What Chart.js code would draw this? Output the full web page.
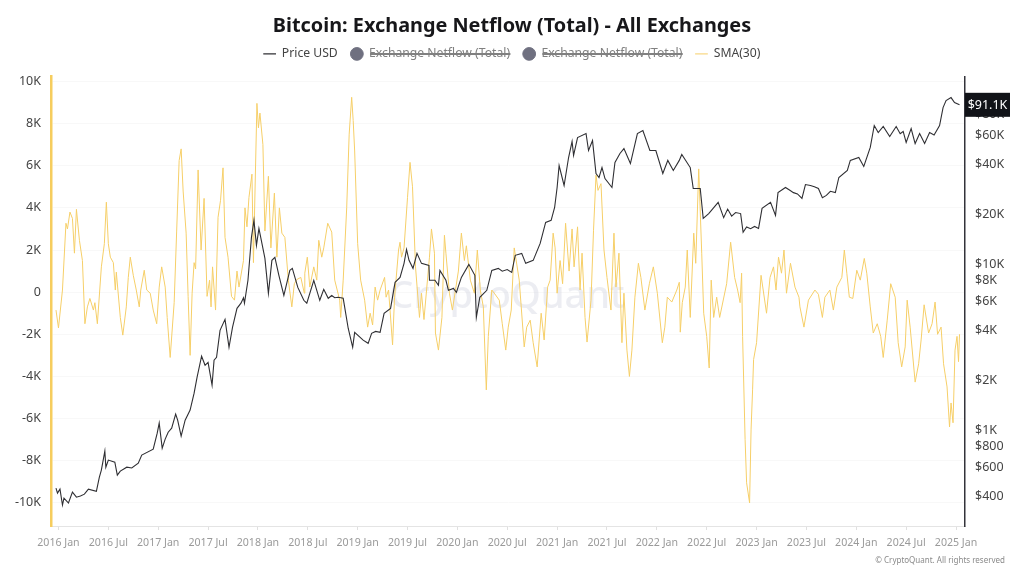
<!DOCTYPE html>
<html>
<head>
<meta charset="utf-8">
<title>Bitcoin: Exchange Netflow (Total) - All Exchanges</title>
<script src="https://cdn.jsdelivr.net/npm/chart.js@4/dist/chart.umd.js"></script>
<style>
  html, body { margin: 0; padding: 0; background: #fff; }
  #wrap { width: 1024px; height: 572px; position: relative; }
  canvas { display: block; }
</style>
</head>
<body>
<div id="wrap"><canvas id="chart" width="1024" height="572"></canvas></div>
<script>
const xTickYears = [2016, 2016.5, 2017, 2017.5, 2018, 2018.5, 2019, 2019.5, 2020, 2020.5, 2021, 2021.5, 2022, 2022.5, 2023, 2023.5, 2024, 2024.5, 2025];
const xTickLabels = ["2016 Jan", "2016 Jul", "2017 Jan", "2017 Jul", "2018 Jan", "2018 Jul", "2019 Jan", "2019 Jul", "2020 Jan", "2020 Jul", "2021 Jan", "2021 Jul", "2022 Jan", "2022 Jul", "2023 Jan", "2023 Jul", "2024 Jan", "2024 Jul", "2025 Jan"];
const netflowTicks = [-10, -8, -6, -4, -2, 0, 2, 4, 6, 8, 10];
const priceTicks = [400, 600, 800, 1000, 2000, 4000, 6000, 8000, 10000, 20000, 40000, 60000, 80000];
const lastPrice = 91100;

// price, usd
const priceYears = [2015.975, 2015.99, 2016.015, 2016.04, 2016.055, 2016.10, 2016.14, 2016.18, 2016.22, 2016.26, 2016.30, 2016.38, 2016.41, 2016.43, 2016.465, 2016.475, 2016.50, 2016.565, 2016.59, 2016.62, 2016.685, 2016.735, 2016.80, 2016.835, 2016.95, 2016.99, 2017.01, 2017.04, 2017.07, 2017.10, 2017.135, 2017.175, 2017.195, 2017.23, 2017.27, 2017.32, 2017.36, 2017.39, 2017.435, 2017.47, 2017.50, 2017.54, 2017.56, 2017.585, 2017.62, 2017.67, 2017.71, 2017.745, 2017.79, 2017.83, 2017.855, 2017.865, 2017.90, 2017.935, 2017.96, 2017.985, 2018.01, 2018.07, 2018.105, 2018.14, 2018.17, 2018.21, 2018.26, 2018.32, 2018.345, 2018.40, 2018.46, 2018.49, 2018.56, 2018.62, 2018.66, 2018.705, 2018.74, 2018.77, 2018.805, 2018.855, 2018.905, 2018.95, 2018.97, 2019.055, 2019.105, 2019.14, 2019.18, 2019.225, 2019.265, 2019.33, 2019.375, 2019.425, 2019.465, 2019.49, 2019.515, 2019.555, 2019.595, 2019.64, 2019.715, 2019.72, 2019.775, 2019.81, 2019.825, 2019.885, 2019.91, 2019.96, 2019.99, 2020.04, 2020.115, 2020.175, 2020.19, 2020.225, 2020.295, 2020.345, 2020.41, 2020.45, 2020.50, 2020.545, 2020.58, 2020.645, 2020.685, 2020.76, 2020.83, 2020.885, 2020.94, 2020.975, 2021.00, 2021.02, 2021.07, 2021.115, 2021.15, 2021.165, 2021.205, 2021.29, 2021.315, 2021.355, 2021.39, 2021.42, 2021.45, 2021.48, 2021.55, 2021.58, 2021.63, 2021.67, 2021.735, 2021.805, 2021.86, 2021.93, 2021.99, 2022.06, 2022.11, 2022.165, 2022.225, 2022.25, 2022.335, 2022.365, 2022.435, 2022.465, 2022.52, 2022.615, 2022.67, 2022.71, 2022.75, 2022.79, 2022.84, 2022.865, 2022.90, 2022.94, 2022.98, 2023.02, 2023.055, 2023.14, 2023.19, 2023.215, 2023.29, 2023.33, 2023.37, 2023.41, 2023.455, 2023.49, 2023.54, 2023.58, 2023.62, 2023.66, 2023.70, 2023.74, 2023.79, 2023.825, 2023.91, 2023.94, 2024.025, 2024.075, 2024.14, 2024.18, 2024.22, 2024.27, 2024.335, 2024.40, 2024.44, 2024.47, 2024.50, 2024.55, 2024.59, 2024.635, 2024.685, 2024.735, 2024.78, 2024.835, 2024.87, 2024.90, 2024.95, 2024.985, 2025.035];
const priceValues = [451, 421, 445, 357, 393, 367, 427, 398, 405, 415, 445, 432, 526, 579, 753, 603, 665, 646, 540, 571, 603, 596, 638, 713, 774, 966, 1110, 785, 889, 979, 1035, 1257, 1156, 927, 1156, 1329, 1681, 2095, 2802, 2472, 2576, 1877, 2650, 2761, 4010, 4670, 3170, 4180, 5440, 5840, 6300, 5840, 8020, 14530, 18400, 13000, 16450, 10870, 6700, 10570, 11020, 8590, 6510, 9200, 9460, 7270, 6080, 5840, 8020, 6080, 7080, 6250, 6500, 6300, 6340, 6250, 4130, 3170, 3900, 3500, 3350, 3850, 3950, 3900, 5080, 5440, 7800, 8350, 10140, 12300, 10570, 9460, 11640, 10140, 9860, 8020, 8020, 7480, 9200, 8020, 6980, 7170, 6790, 8350, 10000, 8590, 4800, 6340, 6980, 9200, 9460, 9100, 9300, 8950, 11330, 11640, 10140, 10570, 13370, 17870, 18400, 21990, 29000, 39300, 29800, 43900, 54800, 45200, 57900, 61200, 48400, 55500, 35200, 33300, 38200, 32800, 29000, 41000, 46400, 49700, 40400, 61200, 63800, 48400, 48400, 35200, 42200, 36700, 42200, 45800, 38200, 28600, 28600, 18900, 20200, 23600, 19100, 21500, 19500, 20500, 20200, 15600, 16800, 16400, 16900, 16450, 21700, 23600, 19700, 27000, 29000, 28000, 27000, 26500, 24900, 30200, 29800, 29300, 28600, 25200, 26000, 27500, 27000, 33300, 36700, 42200, 43900, 38800, 50500, 68400, 62100, 67500, 58700, 67500, 61000, 63000, 54100, 65600, 53300, 61200, 53300, 62100, 60000, 68400, 87700, 96600, 100700, 94000, 91100];

// SMA(30) of the netflow, in thousands
const netflowYears = [2015.975, 2016.00, 2016.04, 2016.075, 2016.09, 2016.115, 2016.14, 2016.16, 2016.18, 2016.21, 2016.24, 2016.265, 2016.29, 2016.315, 2016.35, 2016.365, 2016.39, 2016.43, 2016.46, 2016.48, 2016.50, 2016.52, 2016.55, 2016.57, 2016.58, 2016.62, 2016.645, 2016.68, 2016.70, 2016.72, 2016.75, 2016.78, 2016.81, 2016.825, 2016.86, 2016.885, 2016.92, 2016.95, 2016.985, 2017.01, 2017.035, 2017.07, 2017.09, 2017.12, 2017.16, 2017.185, 2017.21, 2017.23, 2017.25, 2017.28, 2017.30, 2017.32, 2017.34, 2017.36, 2017.375, 2017.40, 2017.43, 2017.46, 2017.49, 2017.515, 2017.53, 2017.545, 2017.575, 2017.60, 2017.625, 2017.65, 2017.67, 2017.70, 2017.735, 2017.765, 2017.79, 2017.81, 2017.855, 2017.87, 2017.89, 2017.91, 2017.94, 2017.955, 2017.99, 2018.005, 2018.02, 2018.05, 2018.07, 2018.105, 2018.13, 2018.165, 2018.19, 2018.215, 2018.24, 2018.27, 2018.305, 2018.34, 2018.365, 2018.39, 2018.43, 2018.465, 2018.47, 2018.495, 2018.52, 2018.56, 2018.59, 2018.61, 2018.64, 2018.66, 2018.70, 2018.74, 2018.77, 2018.82, 2018.83, 2018.855, 2018.89, 2018.915, 2018.94, 2018.955, 2018.97, 2019.00, 2019.03, 2019.07, 2019.10, 2019.125, 2019.15, 2019.175, 2019.20, 2019.225, 2019.27, 2019.285, 2019.31, 2019.35, 2019.37, 2019.41, 2019.425, 2019.44, 2019.465, 2019.50, 2019.525, 2019.55, 2019.58, 2019.62, 2019.64, 2019.665, 2019.72, 2019.74, 2019.77, 2019.78, 2019.81, 2019.845, 2019.87, 2019.885, 2019.92, 2019.95, 2020.01, 2020.04, 2020.07, 2020.09, 2020.13, 2020.17, 2020.20, 2020.23, 2020.26, 2020.29, 2020.31, 2020.345, 2020.37, 2020.42, 2020.45, 2020.485, 2020.51, 2020.54, 2020.57, 2020.62, 2020.67, 2020.695, 2020.73, 2020.76, 2020.80, 2020.84, 2020.87, 2020.905, 2020.93, 2020.96, 2020.98, 2021.00, 2021.03, 2021.055, 2021.085, 2021.12, 2021.15, 2021.17, 2021.205, 2021.23, 2021.25, 2021.28, 2021.30, 2021.34, 2021.365, 2021.39, 2021.41, 2021.44, 2021.47, 2021.50, 2021.54, 2021.57, 2021.59, 2021.62, 2021.65, 2021.67, 2021.70, 2021.725, 2021.75, 2021.78, 2021.815, 2021.84, 2021.88, 2021.925, 2021.965, 2022.005, 2022.055, 2022.08, 2022.105, 2022.15, 2022.20, 2022.225, 2022.235, 2022.255, 2022.285, 2022.305, 2022.335, 2022.37, 2022.39, 2022.42, 2022.45, 2022.47, 2022.50, 2022.525, 2022.545, 2022.57, 2022.60, 2022.63, 2022.70, 2022.74, 2022.78, 2022.81, 2022.835, 2022.85, 2022.86, 2022.885, 2022.90, 2022.93, 2022.945, 2022.96, 2022.97, 2023.00, 2023.045, 2023.10, 2023.135, 2023.17, 2023.195, 2023.22, 2023.25, 2023.275, 2023.30, 2023.34, 2023.385, 2023.425, 2023.435, 2023.475, 2023.52, 2023.585, 2023.62, 2023.66, 2023.685, 2023.735, 2023.77, 2023.805, 2023.855, 2023.88, 2023.905, 2023.93, 2023.965, 2024.005, 2024.04, 2024.08, 2024.105, 2024.14, 2024.17, 2024.21, 2024.245, 2024.27, 2024.31, 2024.345, 2024.39, 2024.42, 2024.455, 2024.49, 2024.51, 2024.54, 2024.59, 2024.625, 2024.65, 2024.68, 2024.725, 2024.76, 2024.79, 2024.815, 2024.85, 2024.875, 2024.91, 2024.935, 2024.95, 2024.97, 2024.99, 2025.01, 2025.025, 2025.035];
const netflowValues = [-0.85, -1.7, 0.1, 3.27, 3.0, 3.8, 3.5, 1.85, 3.93, 2.46, 1.5, -1.5, -0.7, -0.3, -0.85, -0.5, -1.5, 1.2, 2.3, 4.27, 2.3, 1.66, 1.4, 0.1, 0.95, -1.2, -2.04, -0.7, 0.7, 1.66, 0.8, 0.1, -0.7, 0.1, 1.04, 0.1, -0.05, -0.85, -1.5, 0.24, 1.2, 0.24, -1.2, -3.1, -0.5, 2.9, 6.25, 6.8, 4.8, 2.8, -0.2, -3, -0.05, 1.4, 1.1, 5.8, 2, 4.45, -0.2, 0.57, -0.7, 1.2, -0.85, 3.55, 4.36, 5.9, 2.6, 1.66, -0.2, -0.38, 1, 0.24, 1.5, 4, 3.1, 4.5, 5.6, 1.4, 8.96, 7.8, 8.5, 7, 2.9, 5.5, 2.1, 4.7, 1.66, 4, 2.8, 2.6, 0.57, -0.7, 0.4, 0.6, 0.7, -0.05, 0.9, 1.66, 0.24, 1.2, 0.57, 2.46, 1.66, 2.1, 3.27, 2.85, 0.57, -0.38, -1.2, 0.57, 4, 7.5, 9.25, 8.15, 6.7, 2.3, 0.57, -0.38, -1.66, -1, -1.56, 0.24, -0.38, 0.1, 0.7, -0.24, 0.1, -2.5, -0.24, 2, 2.37, 1.66, 2.1, 4.5, 6.16, 5, 1.2, -1.2, -0.05, -1.3, 1.66, 3, 1.85, -1.94, -2.75, -1.2, 2.7, 1.85, -0.05, -0.85, 1, 2.8, 1.5, 2.2, 0.57, -0.05, 2, 0.1, -0.7, -4.64, -2.1, 0.1, -0.05, -0.38, -1.5, -2.75, -1.66, -0.85, 2.1, 0.57, -2.6, -1.66, -1.33, -2.4, -3.55, -1, -2.27, 0.24, 0.57, 2.8, 2.1, -0.05, 1.5, 0.4, 3.27, 1, 3, 1.2, 3.1, 0.1, 1.85, -1.2, -2.37, -0.38, 2.94, 5.55, 4.83, 5.15, 2, 0.7, -0.85, 2.8, 0.24, 1.85, -2.4, -0.05, -2.75, -4, -2.75, -0.24, 1.37, 0.7, -0.85, 0.4, 1.2, -0.05, -2.4, -1.66, -0.24, -0.47, 0.1, 0.47, -1.9, -0.5, 0.24, 2, -1.2, 2.8, 1.37, 5.85, 1.85, -1, -2.1, -3.6, 0.57, -1.2, -0.24, -1.2, 0.4, 2.37, 0.7, 0.1, -0.5, 0.9, -2.1, -7, -9.05, -10, -6.5, -4.64, -3.2, -2.4, 0.8, -1, 0.7, 1.2, 0.1, 1.66, 0.9, 2, -0.05, 1.37, 0.24, -0.24, -0.7, -1.66, -0.38, 0.1, -0.1, -1.2, -0.24, 0.1, -0.85, 0.24, 0.7, 2, 0.9, -0.24, -0.3, 1.04, 0.57, 1.6, 0.9, -0.7, -1.94, -1.5, -2.1, -3.1, -1.33, 0.4, -0.24, -2.4, -3.55, -2.6, -0.38, -1.66, -4.27, -3.4, -2.27, -0.6, -1.94, -1.5, -0.47, -2, -1.66, -3.4, -4.5, -6.4, -5.26, -6.2, -2.75, -2.1, -3.3, -2];

const FONT = "'Noto Sans', sans-serif";

function pairs(xs, ys) {
    return xs.map((x, i) => ({ x: x, y: ys[i] }));
}

function priceLabel(v) {
    return v >= 1000 ? "$" + (v / 1000) + "K" : "$" + v;
}

// badge for the last price and the watermark / copyright texts
const extras = {
    id: "extras",
    beforeDatasetsDraw(chart) {
        const ctx = chart.ctx;
        const area = chart.chartArea;
        ctx.save();
        ctx.font = "500 38px " + FONT;
        ctx.fillStyle = "rgba(205,208,222,0.38)";
        ctx.textAlign = "center";
        ctx.textBaseline = "middle";
        ctx.fillText("CryptoQuant", (area.left + area.right) / 2 - 1, 297);
        ctx.restore();
    },
    afterDraw(chart) {
        const ctx = chart.ctx;
        const yPrice = chart.scales.yPrice;
        const py = yPrice.getPixelForValue(lastPrice);
        ctx.save();
        ctx.fillStyle = "#111318";
        ctx.fillRect(965, py - 12, 45, 24);
        ctx.fillStyle = "#fff";
        ctx.font = "12.5px " + FONT;
        ctx.textAlign = "center";
        ctx.textBaseline = "middle";
        ctx.fillText("$91.1K", 987.5, py + 0.5);
        ctx.fillStyle = "#8a8a8a";
        ctx.font = "8px " + FONT;
        ctx.textAlign = "right";
        ctx.fillText("© CryptoQuant. All rights reserved", 1005, 561);
        ctx.restore();
    }
};

const chart = new Chart(document.getElementById("chart"), {
    type: "line",
    data: {
        datasets: [
            {
                label: "Price USD",
                data: pairs(priceYears, priceValues),
                yAxisID: "yPrice",
                borderColor: "#2f2f33",
                backgroundColor: "#2f2f33",
                borderWidth: 1.1,
                pointRadius: 0,
                pointStyle: "line",
                order: 0
            },
            {
                label: "Exchange Netflow (Total)",
                data: [],
                hidden: true,
                yAxisID: "yNetflow",
                borderColor: "#6f7080",
                backgroundColor: "#6f7080",
                pointStyle: "circle",
                order: 1
            },
            {
                label: "Exchange Netflow (Total)",
                data: [],
                hidden: true,
                yAxisID: "yNetflow",
                borderColor: "#6f7080",
                backgroundColor: "#6f7080",
                pointStyle: "circle",
                order: 2
            },
            {
                label: "SMA(30)",
                data: pairs(netflowYears, netflowValues),
                yAxisID: "yNetflow",
                borderColor: "#f6cf68",
                backgroundColor: "#f6cf68",
                borderWidth: 1,
                pointRadius: 0,
                pointStyle: "line",
                order: 3
            }
        ]
    },
    options: {
        responsive: false,
        animation: false,
        devicePixelRatio: 1,
        layout: { padding: { top: 0, bottom: 0, left: 0, right: 0 } },
        plugins: {
            title: {
                display: true,
                text: "Bitcoin: Exchange Netflow (Total) - All Exchanges",
                color: "#17171a",
                font: { family: FONT, size: 19.85, weight: "bold" },
                padding: { top: 14, bottom: -3 }
            },
            // empty box under the legend, only there to push the plot down
            subtitle: {
                display: true,
                text: "",
                weight: 500,
                font: { size: 5.5 },
                padding: 0
            },
            legend: {
                display: true,
                position: "top",
                labels: {
                    usePointStyle: true,
                    boxHeight: 9,
                    padding: 13,
                    color: "#444",
                    font: { family: FONT, size: 12.2 },
                    generateLabels(c) {
                        const items = Chart.defaults.plugins.legend.labels.generateLabels(c);
                        items.forEach(it => {
                            it.fontColor = it.hidden ? "#808080" : "#444";
                        });
                        return items;
                    }
                }
            },
            tooltip: { enabled: false }
        },
        scales: {
            x: {
                type: "linear",
                min: 2015.925,
                max: 2025.09,
                afterBuildTicks(scale) {
                    scale.ticks = xTickYears.map(v => ({ value: v }));
                },
                afterFit(scale) {
                    scale.height = 46;
                },
                border: { color: "#e4e4e4", width: 1 },
                grid: { drawOnChartArea: false, tickLength: 4, tickColor: "#e0e0e0" },
                ticks: {
                    autoSkip: false,
                    maxRotation: 0,
                    color: "#9a9a9a",
                    padding: 7,
                    font: { family: FONT, size: 10.6 },
                    callback: (v, i) => xTickLabels[i]
                }
            },
            yNetflow: {
                type: "linear",
                position: "left",
                min: -11.1,
                max: 10.23,
                afterBuildTicks(scale) {
                    scale.ticks = netflowTicks.map(v => ({ value: v }));
                },
                afterFit(scale) {
                    scale.width = 51;
                },
                border: { color: "#f6cd5e", width: 2.5 },
                grid: { color: "#f8f8f8", drawTicks: false },
                ticks: {
                    color: "#444",
                    padding: 10,
                    font: { family: FONT, size: 12.5 },
                    callback: v => (v === 0 ? "0" : v + "K")
                }
            },
            yPrice: {
                type: "logarithmic",
                position: "right",
                min: 267,
                max: 134600,
                afterBuildTicks(scale) {
                    scale.ticks = priceTicks.map(v => ({ value: v }));
                },
                afterFit(scale) {
                    scale.width = 59;
                },
                border: { color: "#33333a", width: 1.5 },
                grid: { drawOnChartArea: false, drawTicks: false },
                ticks: {
                    autoSkip: false,
                    color: "#444",
                    padding: 10,
                    font: { family: FONT, size: 12.5 },
                    callback: v => priceLabel(v)
                }
            }
        }
    },
    plugins: [extras]
});
</script>
</body>
</html>
